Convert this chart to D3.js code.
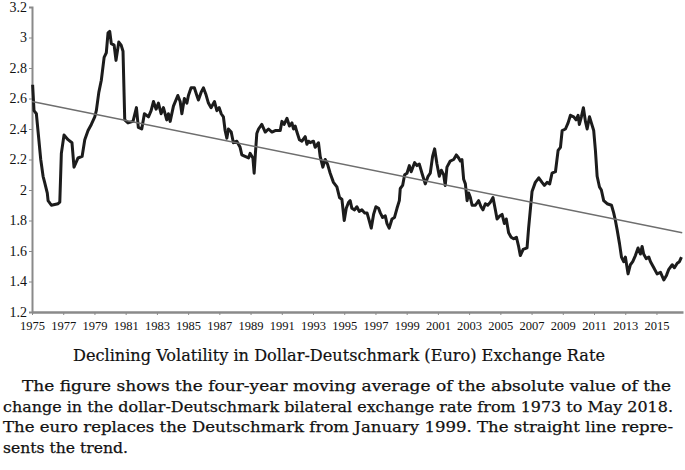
<!DOCTYPE html>
<html>
<head>
<meta charset="utf-8">
<script src="https://cdn.jsdelivr.net/npm/d3@7"></script>
<style>
  body { margin: 0; background: #fff; }
  svg { display: block; }
</style>
</head>
<body>
<svg width="685" height="470"></svg>
<script>
// Daten: Jahr (als Dezimalzahl) und 4-Jahres-Durchschnitt
const years = [
  1975.04, 1975.13, 1975.28, 1975.56, 1975.71, 1975.81, 1975.98, 1976.03, 1976.24, 1976.67,
  1976.78, 1976.88, 1977.05, 1977.31, 1977.56, 1977.69, 1977.95, 1978.21, 1978.38, 1978.59,
  1978.80, 1979.02, 1979.12, 1979.28, 1979.44, 1979.62, 1979.76, 1979.87, 1979.98, 1980.08,
  1980.26, 1980.38, 1980.56, 1980.71, 1980.83, 1980.94, 1981.15, 1981.47, 1981.69, 1981.81,
  1982.03, 1982.20, 1982.46, 1982.63, 1982.78, 1982.95, 1983.10, 1983.27, 1983.42, 1983.63,
  1983.74, 1983.85, 1984.06, 1984.34, 1984.49, 1984.60, 1984.76, 1984.92, 1985.02, 1985.19,
  1985.40, 1985.56, 1985.66, 1985.83, 1985.98, 1986.13, 1986.30, 1986.47, 1986.69, 1986.84,
  1986.99, 1987.12, 1987.26, 1987.37, 1987.48, 1987.58, 1987.76, 1987.90, 1988.12, 1988.33,
  1988.44, 1988.65, 1988.87, 1988.97, 1989.15, 1989.23, 1989.31, 1989.40, 1989.51, 1989.72,
  1989.94, 1990.15, 1990.37, 1990.58, 1990.90, 1991.01, 1991.15, 1991.33, 1991.49, 1991.65,
  1991.75, 1991.86, 1991.97, 1992.13, 1992.29, 1992.50, 1992.61, 1992.71, 1992.82, 1993.03,
  1993.14, 1993.35, 1993.46, 1993.63, 1993.78, 1993.93, 1994.10, 1994.31, 1994.53, 1994.70,
  1994.85, 1995.00, 1995.13, 1995.28, 1995.38, 1995.49, 1995.66, 1995.81, 1995.96, 1996.13,
  1996.30, 1996.46, 1996.60, 1996.73, 1996.88, 1997.03, 1997.20, 1997.31, 1997.46, 1997.63,
  1997.74, 1997.88, 1998.06, 1998.22, 1998.38, 1998.53, 1998.59, 1998.74, 1998.87, 1999.02,
  1999.17, 1999.29, 1999.51, 1999.66, 1999.81, 1999.98, 2000.19, 2000.37, 2000.51, 2000.66,
  2000.79, 2000.94, 2001.09, 2001.22, 2001.37, 2001.47, 2001.58, 2001.79, 2002.01, 2002.18,
  2002.33, 2002.44, 2002.54, 2002.65, 2002.76, 2002.87, 2002.97, 2003.08, 2003.19, 2003.40,
  2003.61, 2003.76, 2003.89, 2004.04, 2004.19, 2004.36, 2004.53, 2004.68, 2004.79, 2004.96,
  2005.11, 2005.26, 2005.38, 2005.53, 2005.69, 2005.85, 2006.03, 2006.17, 2006.28, 2006.46,
  2006.71, 2006.81, 2006.92, 2007.03, 2007.24, 2007.46, 2007.67, 2007.82, 2007.99, 2008.16,
  2008.31, 2008.53, 2008.70, 2008.85, 2008.96, 2009.17, 2009.34, 2009.49, 2009.70, 2009.85,
  2009.98, 2010.06, 2010.19, 2010.32, 2010.45, 2010.56, 2010.71, 2010.83, 2010.98, 2011.09,
  2011.20, 2011.35, 2011.47, 2011.62, 2011.84, 2012.12, 2012.26, 2012.37, 2012.48, 2012.63,
  2012.76, 2012.90, 2013.01, 2013.18, 2013.33, 2013.48, 2013.65, 2013.82, 2013.97, 2014.08,
  2014.18, 2014.34, 2014.51, 2014.62, 2014.83, 2015.04, 2015.26, 2015.47, 2015.64, 2015.79,
  2016.01, 2016.15, 2016.33, 2016.47, 2016.60
];
const volatility = [
  2.69, 2.52, 2.50, 2.20, 2.09, 2.05, 1.98, 1.93, 1.90, 1.91,
  1.92, 2.24, 2.36, 2.33, 2.31, 2.15, 2.21, 2.22, 2.33, 2.39,
  2.43, 2.48, 2.52, 2.64, 2.72, 2.87, 2.90, 3.03, 3.04, 2.96,
  2.95, 2.85, 2.97, 2.95, 2.91, 2.46, 2.44, 2.45, 2.54, 2.41,
  2.40, 2.50, 2.48, 2.52, 2.58, 2.53, 2.57, 2.50, 2.54, 2.46,
  2.50, 2.45, 2.55, 2.62, 2.58, 2.50, 2.60, 2.57, 2.62, 2.67,
  2.67, 2.62, 2.59, 2.64, 2.67, 2.63, 2.57, 2.54, 2.58, 2.52,
  2.54, 2.50, 2.48, 2.39, 2.34, 2.40, 2.38, 2.31, 2.32, 2.28,
  2.23, 2.22, 2.21, 2.24, 2.21, 2.11, 2.24, 2.37, 2.40, 2.43,
  2.38, 2.40, 2.38, 2.39, 2.39, 2.45, 2.43, 2.47, 2.42, 2.44,
  2.40, 2.42, 2.38, 2.33, 2.32, 2.35, 2.30, 2.32, 2.31, 2.32,
  2.28, 2.31, 2.22, 2.15, 2.20, 2.17, 2.11, 2.05, 2.02, 1.95,
  1.94, 1.80, 1.88, 1.92, 1.93, 1.88, 1.87, 1.89, 1.86, 1.87,
  1.85, 1.85, 1.80, 1.75, 1.84, 1.89, 1.88, 1.85, 1.82, 1.83,
  1.78, 1.75, 1.81, 1.82, 1.88, 1.93, 2.01, 2.03, 2.10, 2.11,
  2.16, 2.12, 2.18, 2.16, 2.17, 2.11, 2.04, 2.09, 2.11, 2.22,
  2.27, 2.17, 2.09, 2.13, 2.10, 2.03, 2.15, 2.19, 2.20, 2.23,
  2.21, 2.19, 2.20, 2.07, 2.04, 1.93, 1.98, 1.95, 1.90, 1.90,
  1.93, 1.89, 1.87, 1.91, 1.90, 1.92, 1.95, 1.87, 1.81, 1.83,
  1.84, 1.78, 1.81, 1.72, 1.69, 1.68, 1.69, 1.63, 1.57, 1.61,
  1.62, 1.75, 1.87, 1.99, 2.05, 2.08, 2.05, 2.03, 2.05, 2.04,
  2.11, 2.12, 2.26, 2.28, 2.39, 2.40, 2.44, 2.49, 2.48, 2.46,
  2.49, 2.43, 2.48, 2.54, 2.45, 2.40, 2.48, 2.44, 2.39, 2.26,
  2.09, 2.02, 2.00, 1.93, 1.91, 1.90, 1.85, 1.80, 1.74, 1.65,
  1.56, 1.53, 1.56, 1.45, 1.51, 1.53, 1.57, 1.62, 1.58, 1.63,
  1.58, 1.55, 1.56, 1.53, 1.49, 1.45, 1.46, 1.41, 1.44, 1.48,
  1.51, 1.49, 1.52, 1.53, 1.56
];

// Trendlinie (Anfang/Ende)
const trendYears = [1975, 2016.65];
const trendValues = [2.58, 1.72];

const yTicks = [1.2, 1.4, 1.6, 1.8, 2, 2.2, 2.4, 2.6, 2.8, 3, 3.2];
const xTicks = d3.range(1975, 2016, 2);

const titleText = "Declining Volatility in Dollar-Deutschmark (Euro) Exchange Rate";
const captionLines = [
  "The figure shows the four-year moving average of the absolute value of the",
  "change in the dollar-Deutschmark bilateral exchange rate from 1973 to May 2018.",
  "The euro replaces the Deutschmark from January 1999. The straight line repre-",
  "sents the trend."
];

const svg = d3.select("svg");

const x = d3.scaleLinear().domain([1975, 2016.7]).range([32, 683]);
const y = d3.scaleLinear().domain([1.2, 3.2]).range([312, 7]);

// Achsen
const yAxis = svg.append("g")
  .attr("transform", "translate(32,0)")
  .call(d3.axisLeft(y).tickValues(yTicks).tickSize(3).tickFormat(d3.format("")));
yAxis.select(".domain").attr("stroke", "#8a8a8a").attr("stroke-width", 2);
yAxis.selectAll(".tick line").attr("stroke", "#8a8a8a");
yAxis.selectAll(".tick text")
  .attr("x", -5)
  .attr("fill", "#111")
  .style("font-family", "'Liberation Serif', serif")
  .style("font-size", "14px");

const xAxis = svg.append("g")
  .attr("transform", "translate(0,312)")
  .call(d3.axisBottom(x).tickValues(xTicks).tickSize(3).tickSizeOuter(0).tickFormat(d3.format("d")));
xAxis.select(".domain").attr("stroke", "#8a8a8a").attr("stroke-width", 2.5);
xAxis.selectAll(".tick line").attr("stroke", "#8a8a8a");
xAxis.selectAll(".tick text")
  .attr("y", 9)
  .attr("fill", "#111")
  .style("font-family", "'Liberation Serif', serif")
  .style("font-size", "12.5px");

// Reihe
const line = d3.line()
  .x((d, i) => x(years[i]))
  .y(d => y(d));

svg.append("path")
  .datum(volatility)
  .attr("fill", "none")
  .attr("stroke", "#1c1c1c")
  .attr("stroke-width", 3)
  .attr("stroke-linejoin", "round")
  .attr("d", line);

// Trend
svg.append("line")
  .attr("x1", x(trendYears[0])).attr("y1", y(trendValues[0]))
  .attr("x2", x(trendYears[1])).attr("y2", y(trendValues[1]))
  .attr("stroke", "#6e6e6e")
  .attr("stroke-width", 1.4);

// Titel
svg.append("text")
  .attr("x", 73).attr("y", 361)
  .attr("textLength", 532)
  .attr("lengthAdjust", "spacingAndGlyphs")
  .style("font-family", "'DejaVu Serif', serif")
  .style("font-size", "16px")
  .attr("fill", "#111")
  .attr("stroke", "#111").attr("stroke-width", 0.2)
  .text(titleText);

// Bildunterschrift (Blocksatz)
const capStart = [22, 3, 3, 3];
const capWidth = [649, 670, 670, 125];
const capBase = [391, 412, 432, 453];
svg.selectAll("text.cap")
  .data(captionLines)
  .join("text")
  .attr("class", "cap")
  .attr("x", (d, i) => capStart[i])
  .attr("y", (d, i) => capBase[i])
  .attr("textLength", (d, i) => capWidth[i])
  .attr("lengthAdjust", "spacingAndGlyphs")
  .style("font-family", "'DejaVu Serif', serif")
  .style("font-size", "15.5px")
  .attr("fill", "#111")
  .attr("stroke", "#111").attr("stroke-width", 0.25)
  .text(d => d);
</script>
</body>
</html>
